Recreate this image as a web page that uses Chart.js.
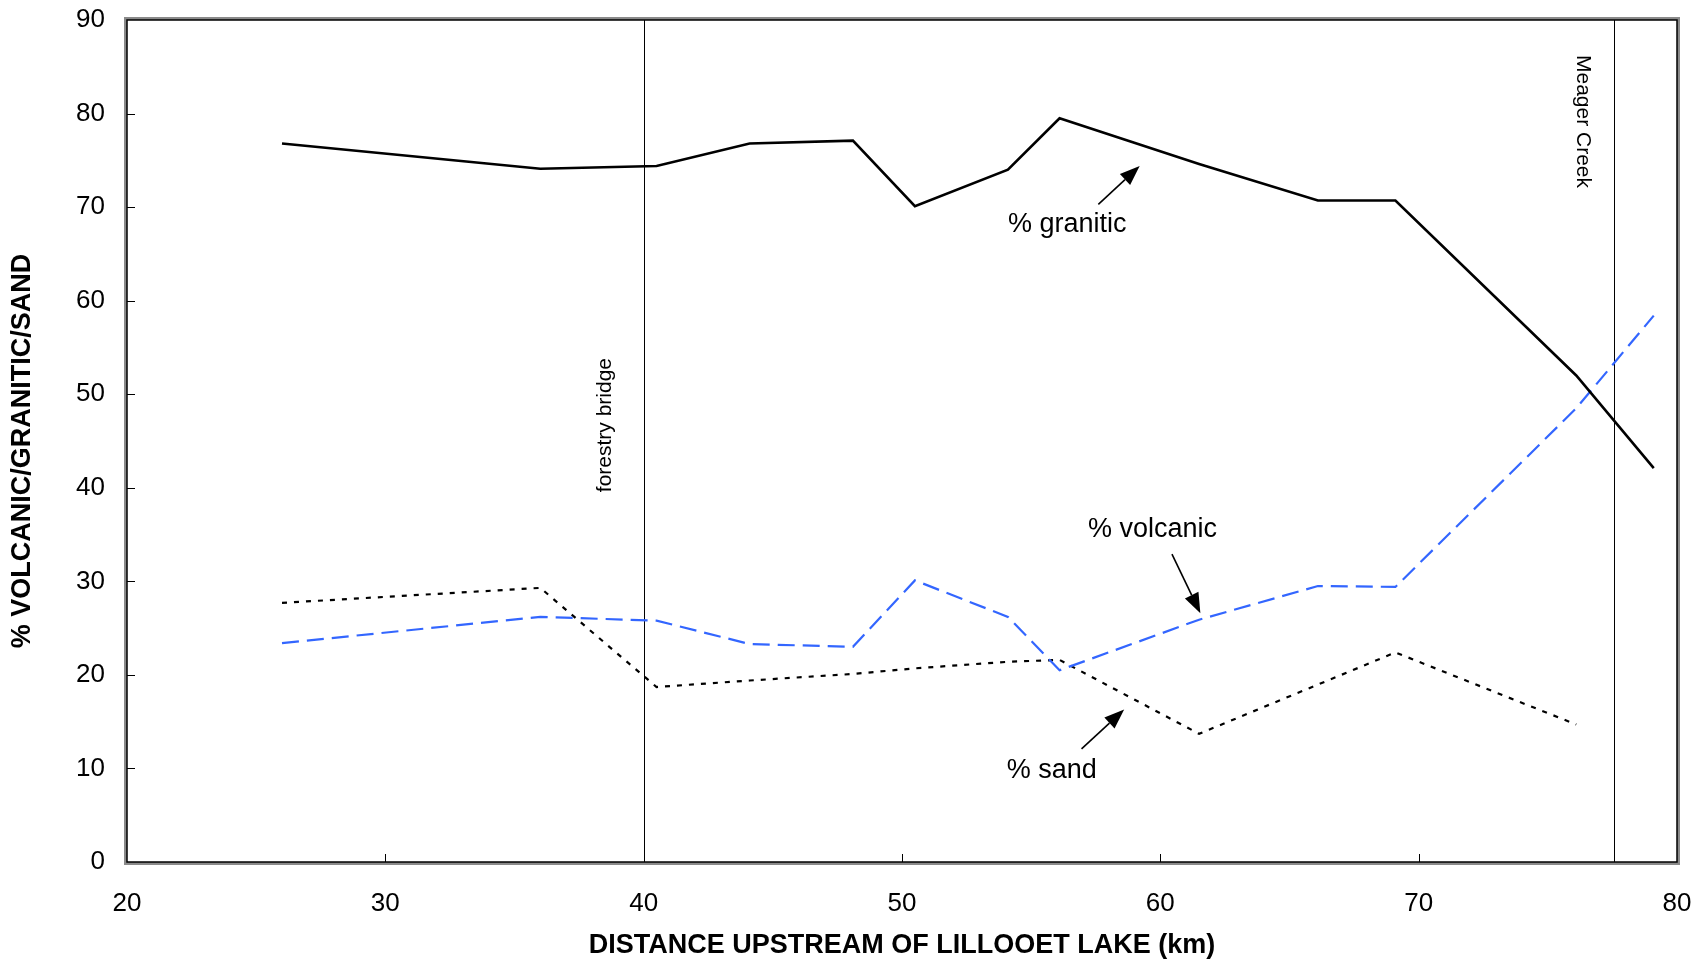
<!DOCTYPE html>
<html lang="en">
<head>
    <meta charset="UTF-8">
    <title>Volcanic / granitic / sand</title>
    <style>
        body {
            margin: 0;
            background: #fff;
        }
        #wrap {
            width: 1696px;
            height: 963px;
        }
    </style>
    <script src="https://cdn.jsdelivr.net/npm/chart.js@4/dist/chart.umd.min.js"></script>
</head>
<body>
    <div id="wrap"><canvas id="chart" width="1696" height="963"></canvas></div>

    <script>
        // distance upstream of Lillooet Lake (km)
        var distance = [26.0, 36.0, 40.5, 44.1, 48.1, 50.5, 54.1, 56.1, 61.5, 66.1, 69.1, 76.1, 79.1];
        var granitic = [76.8, 74.1, 74.4, 76.8, 77.1, 70.1, 74.0, 79.5, 74.6, 70.7, 70.7, 52.0, 42.1];
        var volcanic = [23.4, 26.2, 25.8, 23.3, 23.0, 30.1, 26.2, 20.5, 25.9, 29.5, 29.4, 48.5, 58.4];
        var sand = [27.7, 29.3, 18.7, 19.4, 20.1, 20.7, 21.4, 21.6, 13.7, null, 22.4, 14.7, null];

        var xTicks = [20, 30, 40, 50, 60, 70, 80];
        var yTicks = [0, 10, 20, 30, 40, 50, 60, 70, 80, 90];

        var yTitle = '% VOLCANIC/GRANITIC/SAND';

        // reference lines along the river
        var markers = [
            { x: 40.0, label: 'forestry bridge', labelY: 46.7, side: -1 },
            { x: 77.55, label: 'Meager Creek', labelY: 79.15, side: 1 }
        ];

        // text + arrow annotations (data units)
        var notes = [
            { text: '% granitic', x: 56.4, y: 68.1, from: [57.6, 70.3], to: [59.2, 74.4] },
            { text: '% volcanic', x: 59.7, y: 35.5, from: [60.45, 32.9], to: [61.55, 26.6] },
            { text: '% sand', x: 55.8, y: 9.8, from: [56.95, 12.1], to: [58.6, 16.3] }
        ];

        var FONT = '"Liberation Sans", Arial, sans-serif';

        function pts(values) {
            return distance.map(function (d, i) {
                return { x: d, y: values[i] };
            });
        }

        function arrow(ctx, x1, y1, x2, y2) {
            var ang = Math.atan2(y2 - y1, x2 - x1);
            var len = 20, half = 7.5;
            var bx = x2 - len * Math.cos(ang), by = y2 - len * Math.sin(ang);
            ctx.beginPath();
            ctx.moveTo(x1, y1);
            ctx.lineTo(bx, by);
            ctx.lineWidth = 1.6;
            ctx.stroke();
            ctx.beginPath();
            ctx.moveTo(x2, y2);
            ctx.lineTo(bx + half * Math.sin(ang), by - half * Math.cos(ang));
            ctx.lineTo(bx - half * Math.sin(ang), by + half * Math.cos(ang));
            ctx.closePath();
            ctx.fill();
        }

        var decor = {
            id: 'decor',
            beforeDatasetsDraw: function (chart) {
                var ctx = chart.ctx, a = chart.chartArea;
                var xs = chart.scales.x;
                ctx.save();
                // vertical marker lines
                ctx.strokeStyle = '#000';
                ctx.lineWidth = 1;
                markers.forEach(function (m) {
                    var px = Math.round(xs.getPixelForValue(m.x)) + 0.5;
                    ctx.beginPath();
                    ctx.moveTo(px, a.top);
                    ctx.lineTo(px, a.bottom);
                    ctx.stroke();
                });
                ctx.restore();
            },
            afterDraw: function (chart) {
                var ctx = chart.ctx, a = chart.chartArea;
                var xs = chart.scales.x, ys = chart.scales.y;
                ctx.save();

                // frame with grey shadow
                ctx.strokeStyle = '#8a8a8a';
                ctx.lineWidth = 3;
                ctx.strokeRect(a.left - 1.5, a.top - 1.5, a.right - a.left + 3, a.bottom - a.top + 3);
                ctx.strokeStyle = '#000';
                ctx.lineWidth = 1.5;
                ctx.strokeRect(a.left, a.top, a.right - a.left, a.bottom - a.top);

                // inward tick marks
                ctx.lineWidth = 1;
                yTicks.forEach(function (v) {
                    if (v === 0 || v === 90) return;
                    var py = Math.round(ys.getPixelForValue(v)) + 0.5;
                    ctx.beginPath();
                    ctx.moveTo(a.left, py);
                    ctx.lineTo(a.left + 8, py);
                    ctx.stroke();
                });
                xTicks.forEach(function (v) {
                    if (v === 20 || v === 80) return;
                    var px = Math.round(xs.getPixelForValue(v)) + 0.5;
                    ctx.beginPath();
                    ctx.moveTo(px, a.bottom);
                    ctx.lineTo(px, a.bottom - 8);
                    ctx.stroke();
                });

                ctx.fillStyle = '#000';
                ctx.textAlign = 'center';
                ctx.textBaseline = 'middle';

                // y axis title (sits a little below the plot's middle)
                ctx.save();
                ctx.font = 'bold 27px ' + FONT;
                ctx.translate(23, (a.top + a.bottom) / 2 + 10);
                ctx.rotate(-Math.PI / 2);
                ctx.fillText(yTitle, 0, 0);
                ctx.restore();

                // marker labels
                ctx.font = '21px ' + FONT;
                markers.forEach(function (m) {
                    var px = xs.getPixelForValue(m.x);
                    var py = ys.getPixelForValue(m.labelY);
                    ctx.save();
                    if (m.side < 0) {
                        ctx.translate(px - 38, py);
                        ctx.rotate(-Math.PI / 2);
                    } else {
                        ctx.translate(px - 31, py);
                        ctx.rotate(Math.PI / 2);
                    }
                    ctx.fillText(m.label, 0, 0);
                    ctx.restore();
                });

                // annotations
                ctx.font = '27px ' + FONT;
                ctx.strokeStyle = '#000';
                notes.forEach(function (n) {
                    ctx.fillText(n.text, xs.getPixelForValue(n.x), ys.getPixelForValue(n.y));
                    arrow(ctx,
                        xs.getPixelForValue(n.from[0]), ys.getPixelForValue(n.from[1]),
                        xs.getPixelForValue(n.to[0]), ys.getPixelForValue(n.to[1]));
                });
                ctx.restore();
            }
        };

        var ctx = document.getElementById('chart').getContext('2d');
        var chart = new Chart(ctx, {
            type: 'line',
            data: {
                datasets: [
                    {
                        label: '% granitic',
                        data: pts(granitic),
                        borderColor: '#000',
                        borderWidth: 2.6,
                        pointRadius: 0,
                        tension: 0
                    },
                    {
                        label: '% volcanic',
                        data: pts(volcanic),
                        borderColor: '#3366ff',
                        borderWidth: 2.2,
                        borderDash: [17, 8],
                        pointRadius: 0,
                        tension: 0
                    },
                    {
                        label: '% sand',
                        data: pts(sand),
                        borderColor: '#000',
                        borderWidth: 2.2,
                        borderDash: [5, 7],
                        pointRadius: 0,
                        spanGaps: true,
                        tension: 0
                    }
                ]
            },
            options: {
                responsive: false,
                animation: false,
                layout: { padding: { top: 20, right: 19, left: 0, bottom: 0 } },
                plugins: {
                    legend: { display: false },
                    tooltip: { enabled: false }
                },
                scales: {
                    x: {
                        type: 'linear',
                        min: 20,
                        max: 80,
                        afterFit: function (s) {
                            s.height = 101;
                            s.paddingLeft = 0;
                            s.paddingRight = 0;
                        },
                        afterBuildTicks: function (s) {
                            s.ticks = xTicks.map(function (v) { return { value: v }; });
                        },
                        grid: { display: false, drawTicks: false },
                        border: { display: false },
                        ticks: {
                            padding: 26,
                            maxRotation: 0,
                            color: '#000',
                            font: { family: FONT, size: 26 }
                        },
                        title: {
                            display: true,
                            text: 'DISTANCE UPSTREAM OF LILLOOET LAKE (km)',
                            color: '#000',
                            padding: { top: 0, bottom: 1 },
                            font: { family: FONT, size: 27, weight: 'bold' }
                        }
                    },
                    y: {
                        min: 0,
                        max: 90,
                        afterFit: function (s) {
                            s.width = 127;
                            s.paddingTop = 0;
                            s.paddingBottom = 0;
                        },
                        afterBuildTicks: function (s) {
                            s.ticks = yTicks.map(function (v) { return { value: v }; });
                        },
                        grid: { display: false, drawTicks: false },
                        border: { display: false },
                        ticks: {
                            padding: 22,
                            color: '#000',
                            font: { family: FONT, size: 26 }
                        },
                        title: { display: false }
                    }
                }
            },
            plugins: [decor]
        });
    </script>
</body>
</html>
